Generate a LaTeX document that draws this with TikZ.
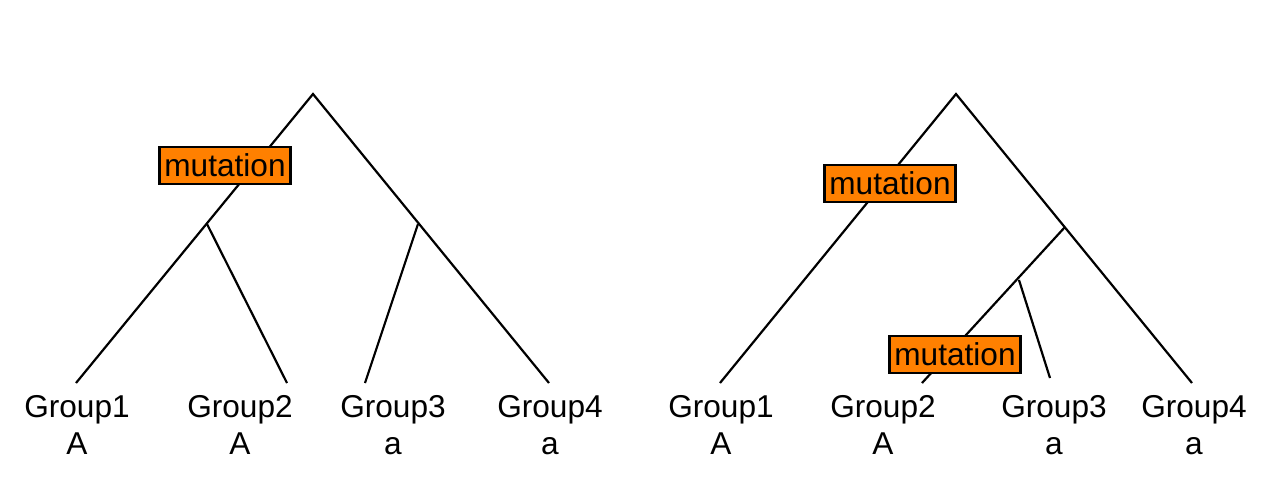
\documentclass[tikz,border=0pt]{standalone}
\usepackage{fontspec}
\setmainfont{Liberation Sans}
\usepackage{xcolor}
\usepackage{tikz}
\definecolor{mutorange}{HTML}{FF8000}

\begin{document}
\begin{tikzpicture}[x=0.5pt, y=-0.5pt, line width=1.1pt,
	every node/.style={font=\fontsize{15.8}{18.8}\selectfont, inner sep=0pt},
	tiplabel/.style={anchor=north, align=center},
	mutbox/.style={draw=black, fill=mutorange, line width=1.1pt, minimum width=65.5pt, minimum height=18.5pt}]
	\useasboundingbox (0,0) rectangle (1265,489);
	% left tree
	\coordinate (lroot) at (313,94);
	\coordinate (linta) at (207,224);
	\coordinate (lintb) at (418,224);
	\coordinate (ltip1) at (76,383);
	\coordinate (ltip2) at (287,383);
	\coordinate (ltip3) at (365,383);
	\coordinate (ltip4) at (549,383);
	\node (lgroup1) at (77,394) [tiplabel] {Group1\\A};
	\node (lgroup2) at (240,394) [tiplabel] {Group2\\A};
	\node (lgroup3) at (393,394) [tiplabel] {Group3\\a};
	\node (lgroup4) at (550,394) [tiplabel] {Group4\\a};
	
	\draw (ltip1) -- (lroot) -- (ltip4);
	\draw (linta) -- (ltip2);
	\draw (lintb) -- (ltip3);
	\node (lmut) at (225,165.5) [mutbox] {mutation};
	
	% right tree
	\coordinate (rroot) at (956,94);
	\coordinate (rinta) at (1065,227);
	\coordinate (rintb) at (1019,280);
	\coordinate (rtip1) at (720,383);
	\coordinate (rtip2) at (922,383);
	\coordinate (rtip3) at (1050,378);
	\coordinate (rtip4) at (1192,383);
	\node (rgroup1) at (721,394) [tiplabel] {Group1\\A};
	\node (rgroup2) at (883,394) [tiplabel] {Group2\\A};
	\node (rgroup3) at (1054,394) [tiplabel] {Group3\\a};
	\node (rgroup4) at (1194,394) [tiplabel] {Group4\\a};
	
	\draw (rtip1) -- (rroot) -- (rtip4);
	\draw (rinta) -- (rtip2);
	\draw (rintb) -- (rtip3);
	\node (rmuta) at (890,183.5) [mutbox] {mutation};
	\node (rmutb) at (955,354.5) [mutbox] {mutation};
\end{tikzpicture}
\end{document}
